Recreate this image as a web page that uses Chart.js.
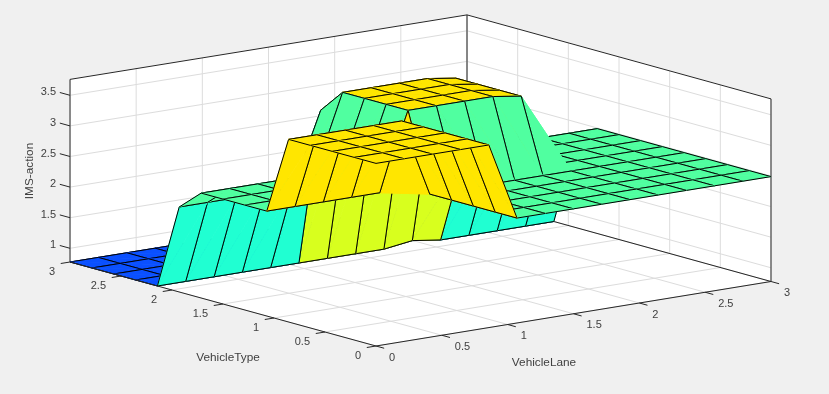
<!DOCTYPE html>
<html>
<head>
<meta charset="utf-8">
<title>IMS-action surface</title>
<script src="https://cdn.jsdelivr.net/npm/chart.js@4"></script>
<style>
  html, body { margin: 0; padding: 0; background: #f0f0f0; }
  canvas { display: block; }
</style>
</head>
<body>
<canvas id="surfaceChart" width="829" height="394"></canvas>
<script>
// grid of the surface
const vehicleLane = [0, 0.214, 0.429, 0.643, 0.857, 1.071, 1.286, 1.5, 1.714, 1.929, 2.143, 2.357, 2.571, 2.786, 3];
const vehicleType = [0, 0.214, 0.429, 0.643, 0.857, 1.071, 1.286, 1.5, 1.714, 1.929, 2.143, 2.357, 2.571, 2.786, 3];

// one row per vehicleType, one column per vehicleLane
const imsAction = [
  [3.76, 3.76, 3.76, 3.76, 3.76, 2.49, 2.49, 2.49, 2.49, 2.49, 2.49, 2.49, 2.49, 2.49, 2.49],
  [3.76, 3.76, 3.76, 3.76, 3.76, 2.49, 2.49, 2.49, 2.49, 2.49, 2.49, 2.49, 2.49, 2.49, 2.49],
  [3.76, 3.76, 3.76, 3.76, 3.76, 2.49, 2.49, 2.49, 2.49, 2.49, 2.49, 2.49, 2.49, 2.49, 2.49],
  [3.76, 3.76, 3.76, 3.76, 3.76, 2.49, 2.49, 2.49, 2.49, 2.49, 2.49, 2.49, 2.49, 2.49, 2.49],
  [3.76, 3.76, 3.76, 3.76, 3.76, 2.49, 2.49, 2.49, 2.49, 2.49, 2.49, 2.49, 2.49, 2.49, 2.49],
  [2.49, 2.49, 2.49, 2.49, 2.49, 3.76, 3.76, 3.76, 3.76, 3.69, 2.49, 2.49, 2.49, 2.49, 2.49],
  [2.49, 2.49, 2.49, 2.49, 2.49, 3.76, 3.76, 3.76, 3.76, 3.69, 2.49, 2.49, 2.49, 2.49, 2.49],
  [2.49, 2.49, 2.49, 2.49, 2.49, 3.76, 3.76, 3.76, 3.76, 3.69, 2.49, 2.49, 2.49, 2.49, 2.49],
  [2.49, 2.49, 2.49, 2.49, 2.49, 3.76, 3.76, 3.76, 3.76, 3.69, 2.49, 2.49, 2.49, 2.49, 2.49],
  [2.165, 2.165, 2.165, 2.165, 2.165, 3.37, 3.37, 3.37, 3.37, 3.37, 2.165, 2.165, 2.165, 2.165, 2.165],
  [0.776, 0.776, 0.776, 0.776, 0.776, 0.776, 0.776, 0.776, 0.776, 0.84, 0.776, 0.776, 0.776, 0.776, 0.776],
  [0.776, 0.776, 0.776, 0.776, 0.776, 0.776, 0.776, 0.776, 0.776, 0.776, 0.776, 0.776, 0.776, 0.776, 0.776],
  [0.776, 0.776, 0.776, 0.776, 0.776, 0.776, 0.776, 0.776, 0.776, 0.776, 0.776, 0.776, 0.776, 0.776, 0.776],
  [0.776, 0.776, 0.776, 0.776, 0.776, 0.776, 0.776, 0.776, 0.776, 0.776, 0.776, 0.776, 0.776, 0.776, 0.776],
  [0.776, 0.776, 0.776, 0.776, 0.776, 0.776, 0.776, 0.776, 0.776, 0.776, 0.776, 0.776, 0.776, 0.776, 0.776]
];

// ticks
const laneTicks = [0, 0.5, 1, 1.5, 2, 2.5, 3];
const typeTicks = [0, 0.5, 1, 1.5, 2, 2.5, 3];
const actionTicks = [1, 1.5, 2, 2.5, 3, 3.5];

const laneMax = 3, typeMax = 3, actionMin = 0.776, actionMax = 3.76;

// view: data -> chart coords (the chart scales run 0..829 and 0..394)
function project(lane, type, action) {
  return {
    x: 376 + 131.67 * lane - 102 * type + 0.222 * lane * type,
    y: 346 - 21.5 * lane - 28 * type - 61.2 * (action - actionMin)
  };
}

// facet colour from its first vertex
function colorFor(v) {
  if (v < 1) return "#0a50ff";
  if (v < 2.3) return "#20ffd2";
  if (v < 3) return "#50ffa0";
  if (v < 3.6) return "#d8ff1e";
  return "#ffe600";
}

// dataset 0 is painted last, so everything gets pushed front to back
const datasets = [];

function addLine(points, color, width) {
  datasets.push({ data: points, showLine: true, fill: false, pointRadius: 0, borderColor: color, borderWidth: width });
}
function addFill(points, color) {
  datasets.push({ data: points, showLine: true, fill: "shape", pointRadius: 0, backgroundColor: color, borderColor: color, borderWidth: 0.8 });
}

const axisColor = "#262626", gridColor = "#dcdcdc", edgeColor = "#000000";

// front axes and tick marks
addLine([project(0, typeMax, actionMin), project(0, 0, actionMin), project(laneMax, 0, actionMin)], axisColor, 1);
laneTicks.forEach(t => addLine([project(t, 0, actionMin), project(t, -0.08, actionMin)], axisColor, 1));
typeTicks.forEach(t => addLine([project(0, t, actionMin), project(-0.07, t, actionMin)], axisColor, 1));
actionTicks.forEach(t => addLine([project(0, typeMax, t), project(0, typeMax + 0.1, t)], axisColor, 1));

// surface, nearest facet first. Each facet is split along one diagonal,
// the strongly folded ones show that split
for (let j = 0; j < vehicleType.length - 1; j++) {
  for (let i = 0; i < vehicleLane.length - 1; i++) {
    const pt = (a, b) => project(vehicleLane[a], vehicleType[b], imsAction[b][a]);
    const p00 = pt(i, j), p10 = pt(i + 1, j), p11 = pt(i + 1, j + 1), p01 = pt(i, j + 1);
    const col = colorFor(imsAction[j][i]);
    addLine([p01, p00, p10], edgeColor, 1);
    addFill([p00, p10, p01, p00], col);
    addLine([p10, p11, p01], edgeColor, 1);
    addFill([p10, p11, p01, p10], col);
  }
}

// box edges behind the surface
addLine([project(0, typeMax, actionMax), project(laneMax, typeMax, actionMax), project(laneMax, 0, actionMax)], axisColor, 1);
addLine([project(0, typeMax, actionMin), project(0, typeMax, actionMax)], axisColor, 1);
addLine([project(laneMax, typeMax, actionMin), project(laneMax, typeMax, actionMax)], axisColor, 1);
addLine([project(laneMax, 0, actionMin), project(laneMax, 0, actionMax)], axisColor, 1);
addLine([project(0, typeMax, actionMin), project(laneMax, typeMax, actionMin), project(laneMax, 0, actionMin)], axisColor, 1);

// grid on the floor and on both back walls
laneTicks.forEach(t => {
  addLine([project(t, 0, actionMin), project(t, typeMax, actionMin), project(t, typeMax, actionMax)], gridColor, 1);
});
typeTicks.forEach(t => {
  addLine([project(0, t, actionMin), project(laneMax, t, actionMin), project(laneMax, t, actionMax)], gridColor, 1);
});
actionTicks.forEach(t => {
  addLine([project(0, typeMax, t), project(laneMax, typeMax, t), project(laneMax, 0, t)], gridColor, 1);
});

// white background of the plot box
addFill([
  project(0, 0, actionMin), project(laneMax, 0, actionMin), project(laneMax, 0, actionMax),
  project(laneMax, typeMax, actionMax), project(0, typeMax, actionMax), project(0, typeMax, actionMin),
  project(0, 0, actionMin)
], "#ffffff");

// tick labels and axis titles sit at 3D positions, so they go in by hand
const axisText = {
  id: "axisText",
  afterDraw(chart) {
    const { ctx, scales } = chart;
    const at = p => ({ x: scales.x.getPixelForValue(p.x), y: scales.y.getPixelForValue(p.y) });
    ctx.save();
    ctx.fillStyle = "#404040";
    ctx.font = "11px 'Liberation Sans'";
    ctx.textBaseline = "middle";

    ctx.textAlign = "left";
    laneTicks.forEach(t => {
      const p = at(project(t, 0, actionMin));
      ctx.fillText(String(t), p.x + 13, p.y + 11.7);
    });
    ctx.textAlign = "right";
    typeTicks.forEach(t => {
      const p = at(project(0, t, actionMin));
      ctx.fillText(String(t), p.x - 15, p.y + 10);
    });
    actionTicks.forEach(t => {
      const p = at(project(0, typeMax, t));
      ctx.fillText(String(t), p.x - 14, p.y - 3);
    });

    ctx.font = "11.8px 'Liberation Sans'";
    ctx.textAlign = "center";
    ctx.fillText("VehicleLane", 544, 363);
    ctx.fillText("VehicleType", 228, 358);
    ctx.translate(30, 171);
    ctx.rotate(-Math.PI / 2);
    ctx.fillText("IMS-action", 0, 0);
    ctx.restore();
  }
};

new Chart(document.getElementById("surfaceChart"), {
  type: "scatter",
  data: { datasets },
  options: {
    responsive: false,
    animation: false,
    layout: { padding: 0 },
    elements: { line: { tension: 0 } },
    plugins: { legend: { display: false }, tooltip: { enabled: false }, title: { display: false } },
    scales: {
      x: { type: "linear", min: 0, max: 829, display: false },
      y: { type: "linear", min: 0, max: 394, reverse: true, display: false }
    }
  },
  plugins: [axisText]
});
</script>
</body>
</html>
